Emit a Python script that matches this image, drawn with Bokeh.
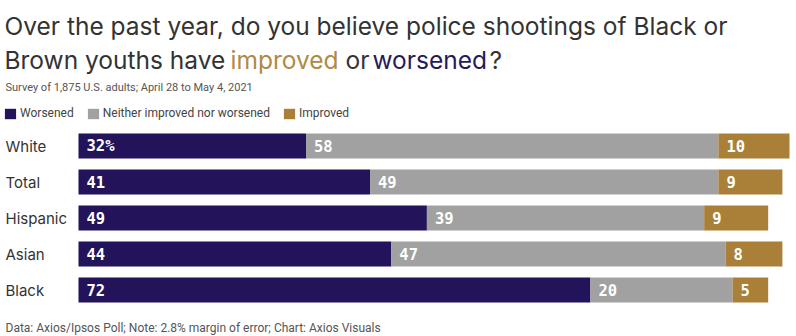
from bokeh.plotting import figure
from bokeh.models import Range1d, Label, ColumnDataSource, LabelSet, Legend, LegendItem
from bokeh.embed import file_html
from bokeh.resources import INLINE
from bokeh.core.properties import value

# ---- data ----
categories = ["White", "Total", "Hispanic", "Asian", "Black"]
worsened = [32, 41, 49, 44, 72]
neither = [58, 49, 39, 47, 20]
improved = [10, 9, 9, 8, 5]
series_names = ["Worsened", "Neither improved nor worsened", "Improved"]
series_colors = ["#22135A", "#A1A1A1", "#AA7F38"]

title_line1 = "Over the past year, do you believe police shootings of Black or"
subtitle = "Survey of 1,875 U.S. adults; April 28 to May 4, 2021"
footer = "Data: Axios/Ipsos Poll; Note: 2.8% margin of error; Chart: Axios Visuals"

# ---- layout constants ----
W, H = 796, 336
X0, PX = 78, 7.11          # bar origin (px) and px per percentage point
ROW0, ROWSTEP, BARH = 145.5, 36, 25
TEXT = "#333333"
FONT = "Roboto"
TFONT = "Inter"
MONO = "DejaVu Sans Mono"

p = figure(width=W, height=H, output_backend="svg", toolbar_location=None,
           x_range=Range1d(-X0 / PX, (W - X0) / PX), y_range=Range1d(H, 0),
           x_axis_location=None, y_axis_location=None,
           min_border=0, min_border_left=0, min_border_right=0,
           min_border_top=0, min_border_bottom=0)
p.grid.visible = False
p.outline_line_color = None
p.background_fill_color = "white"

ys = [ROW0 + ROWSTEP * i for i in range(len(categories))]
lefts = [
    [0] * len(categories),
    worsened,
    [w + n for w, n in zip(worsened, neither)],
]
vals = [worsened, neither, improved]

renderers = []
for k in range(3):
    rights = [l + v for l, v in zip(lefts[k], vals[k])]
    texts = [str(v) for v in vals[k]]
    if k == 0:
        texts[0] = texts[0] + "%"
    src = ColumnDataSource(dict(y=ys, left=lefts[k], right=rights, text=texts))
    r = p.hbar(y="y", left="left", right="right", height=BARH, source=src,
               fill_color=series_colors[k], line_color=None)
    renderers.append(r)
    p.add_layout(LabelSet(x="left", y="y", text="text", source=src, x_offset=8,
                          text_font=value(MONO), text_font_style="bold",
                          text_font_size="15.5px", text_color="white",
                          text_baseline="middle", text_align="left"))

# category labels
csrc = ColumnDataSource(dict(y=ys, text=categories))
p.add_layout(LabelSet(x=5, x_units="screen", y="y", text="text", source=csrc,
                      text_font=value(TFONT), text_font_size="15px",
                      text_color=TEXT, text_baseline="middle"))

# legend
legend = Legend(items=[LegendItem(label=series_names[k], renderers=[renderers[k]])
                       for k in range(3)],
                orientation="horizontal", location=(3, H - 120),
                padding=0, margin=0, spacing=12, label_standoff=3,
                glyph_width=14, glyph_height=13, label_height=13,
                label_text_font=FONT, label_text_font_size="12px",
                label_text_color="#444444", border_line_color=None,
                background_fill_alpha=0)
p.add_layout(legend)


def label(x, y, text, size, color=TEXT, font=FONT):
    p.add_layout(Label(x=x, y=y, x_units="screen", y_units="data", text=text,
                       text_font=font, text_font_size=size, text_color=color,
                       text_baseline="alphabetic"))


# title
label(4, 25, title_line1, "24.5px", font=TFONT)
seg = [(4, "Brown youths have ", TEXT), (230, "improved", "#B08A45"),
       (345, "or", TEXT), (372, "worsened", "#251A5C"), (489, "?", TEXT)]
for x, t, c in seg:
    label(x, 59, t, "24.5px", c, font=TFONT)

label(5, 87, subtitle, "11px", "#555555")
label(5, 327, footer, "12px", "#555555")

open("out.html", "w").write(file_html(p, INLINE))
